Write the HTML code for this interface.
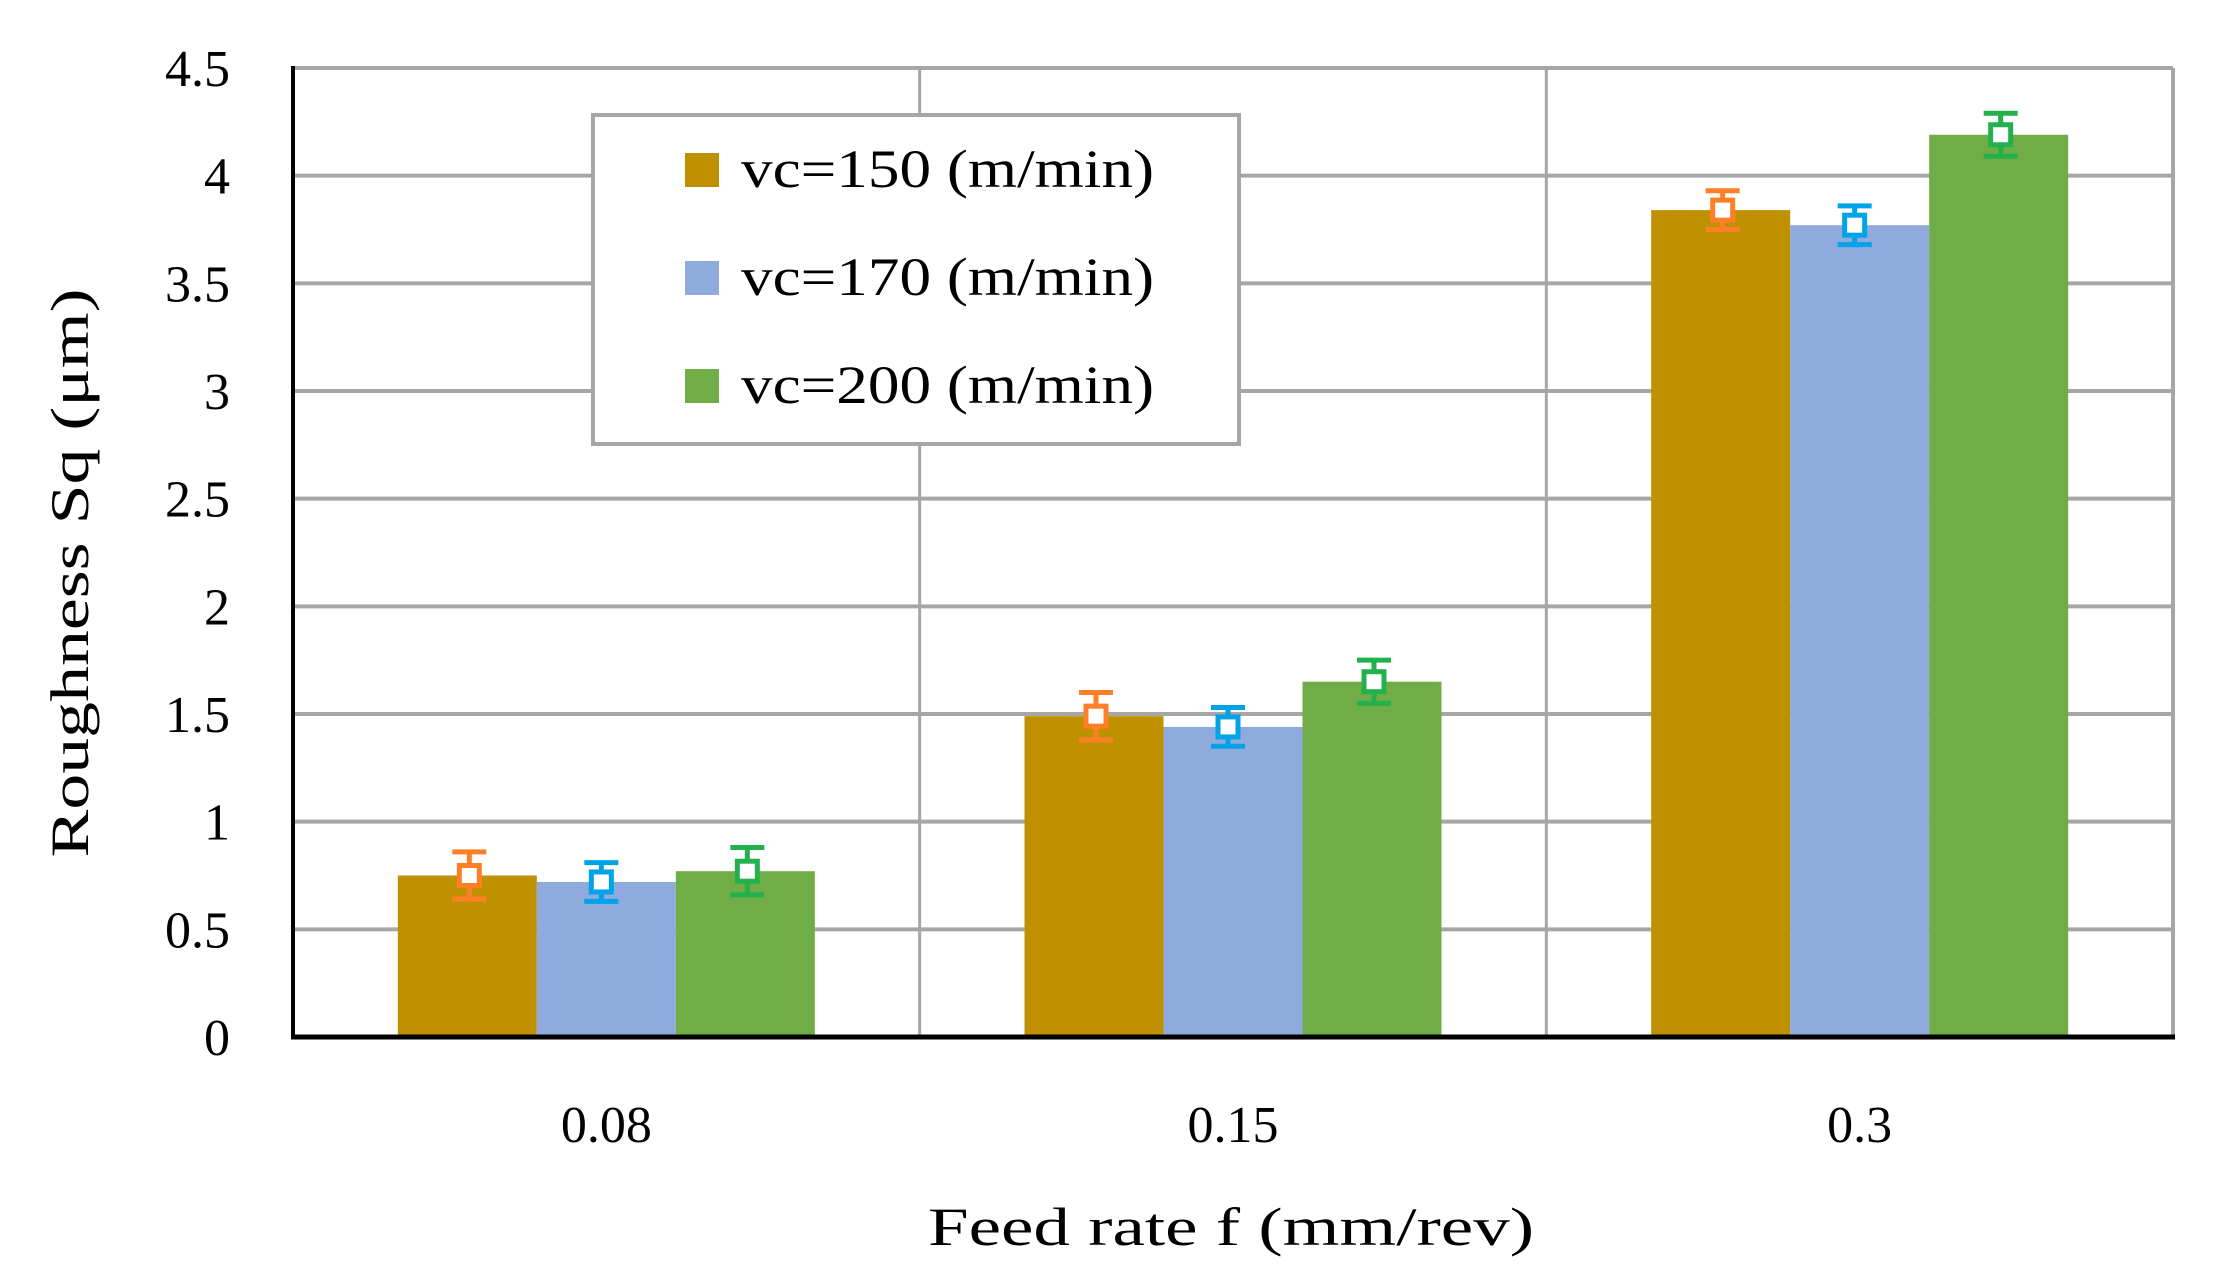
<!DOCTYPE html>
<html><head><meta charset="utf-8"><style>
html,body{margin:0;padding:0;background:#fff;}
svg{display:block;font-family:"Liberation Serif",serif;}
</style></head><body>
<svg id="chart" width="2218" height="1286" viewBox="0 0 2218 1286" xmlns="http://www.w3.org/2000/svg">
<g id="grid"></g>
<g id="bars"></g>
<g id="errs"></g>
<g id="axes"></g>
<g id="legend">
  <rect x="593" y="115" width="646" height="329" fill="#fff" stroke="#a6a6a6" stroke-width="4"/>
</g>
<text x="1231" y="1245" font-size="54" text-anchor="middle" textLength="606" lengthAdjust="spacingAndGlyphs">Feed  rate f (mm/rev)</text>
<text transform="translate(88,573) rotate(-90)" font-size="54" text-anchor="middle" textLength="569" lengthAdjust="spacingAndGlyphs">Roughness Sq (μm)</text>
</svg>
<script>
const categories = ["0.08", "0.15", "0.3"];
const seriesNames = ["vc=150 (m/min)", "vc=170 (m/min)", "vc=200 (m/min)"];
const vc150 = [0.75, 1.49, 3.84];
const vc170 = [0.72, 1.44, 3.77];
const vc200 = [0.77, 1.65, 4.19];
const err150 = [0.11, 0.11, 0.09];
const err170 = [0.09, 0.09, 0.09];
const err200 = [0.11, 0.10, 0.10];
const yTicks = ["0", "0.5", "1", "1.5", "2", "2.5", "3", "3.5", "4", "4.5"];

const NS = "http://www.w3.org/2000/svg";
const L = 293, R = 2173, T = 68, B = 1037, yMax = 4.5;
const y = v => B - (v / yMax) * (B - T);
const groupW = (R - L) / categories.length;
const xc = i => L + groupW * (i + 0.5);
const barW = 139;
const fills = ["#bf9000", "#8faadc", "#70ad47"];
const errCols = ["#ff7f27", "#00a2e8", "#22b14c"];
const vals = [vc150, vc170, vc200];
const errs = [err150, err170, err200];

function mk(tag, attrs, parent) {
  const e = document.createElementNS(NS, tag);
  for (const k in attrs) e.setAttribute(k, attrs[k]);
  parent.appendChild(e);
  return e;
}
const grid = document.getElementById('grid');
yTicks.forEach((t, i) => {
  const v = parseFloat(t);
  if (v > 0) {
    const g = mk('line', {x1: L, x2: R, y1: y(v), y2: y(v), stroke: '#a6a6a6', 'stroke-width': 4}, grid);
    
    
  }
  const lab = mk('text', {x: 230, y: y(v) + 18, 'font-size': 52, 'text-anchor': 'end'}, grid);
  lab.textContent = t;
  
  
});
for (let i = 1; i <= categories.length; i++) {
  const xv = L + groupW * i;
  const g = mk('line', {x1: xv, x2: xv, y1: T, y2: B, stroke: '#a6a6a6', 'stroke-width': 3}, grid);
  
  
}
const barsG = document.getElementById('bars');
const errG = document.getElementById('errs');
categories.forEach((c, i) => {
  vals.forEach((s, j) => {
    const x0 = xc(i) - 1.5 * barW + j * barW;
    const b = mk('rect', {x: x0, y: y(s[i]), width: barW, height: B - y(s[i]), fill: fills[j]}, barsG);
    
    
    const cx = x0 + barW / 2 + (j === 1 ? -5 : 2);
    const g = mk('g', {stroke: errCols[j], 'stroke-width': 5, fill: 'none'}, errG);
    
    
    const hi = y(s[i] + errs[j][i]), lo = y(s[i] - errs[j][i]);
    mk('line', {x1: cx, x2: cx, y1: hi, y2: lo}, g);
    mk('line', {x1: cx - 17, x2: cx + 17, y1: hi, y2: hi}, g);
    mk('line', {x1: cx - 17, x2: cx + 17, y1: lo, y2: lo}, g);
    mk('rect', {x: cx - 10, y: y(s[i]) - 10, width: 20, height: 20, fill: '#fff'}, g);
  });
  const lab = mk('text', {x: xc(i), y: 1142, 'font-size': 52, 'text-anchor': 'middle'}, barsG);
  lab.textContent = c;
  
  
});
const axes = document.getElementById('axes');
mk('line', {x1: L, x2: R, y1: T, y2: T, stroke: '#a6a6a6', 'stroke-width': 4}, axes);
mk('line', {x1: R, x2: R, y1: T, y2: B, stroke: '#a6a6a6', 'stroke-width': 4}, axes);
const xa = mk('line', {x1: L - 2, x2: R + 2, y1: B, y2: B, stroke: '#000', 'stroke-width': 5}, axes);


const ya = mk('line', {x1: L, x2: L, y1: T - 2, y2: B + 2, stroke: '#000', 'stroke-width': 4}, axes);


const leg = document.getElementById('legend');
seriesNames.forEach((n, j) => {
  const cy = 170 + j * 108;
  const sw = mk('rect', {x: 685, y: cy - 17, width: 34, height: 34, fill: fills[j]}, leg);
  
  
  const t = mk('text', {x: 741, y: cy + 17, 'font-size': 54, textLength: 413, lengthAdjust: 'spacingAndGlyphs'}, leg);
  t.textContent = n;
  
  
});
</script>
</body></html>
